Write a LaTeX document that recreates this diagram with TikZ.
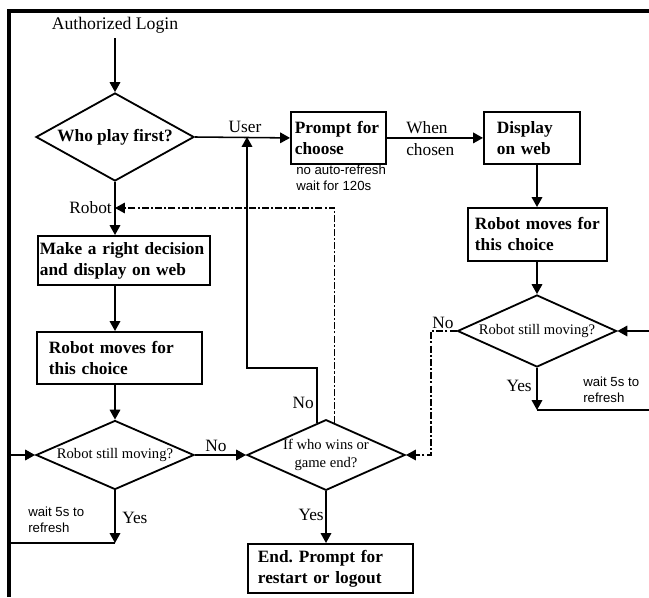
\documentclass[tikz,border=0pt]{standalone}
\usepackage{fontspec}
\setmainfont{Liberation Serif}
\setsansfont{Liberation Sans}
\usetikzlibrary{shapes.geometric, arrows.meta, calc}
\hyphenpenalty=10000
\frenchspacing

\begin{document}
\begin{tikzpicture}[
  x=0.025cm, y=-0.025cm,
  >={Triangle[length=7pt, width=7.5pt]},
  every node/.style={font=\fontsize{12.3}{15}\selectfont},
  stepbox/.style={rectangle, draw, line width=1.3pt, anchor=north west, align=left, inner xsep=0.05cm, inner ysep=0pt, font=\fontsize{12.3}{15}\selectfont\bfseries},
  decision/.style={diamond, aspect=2.5, draw, line width=1.3pt, inner sep=0pt, align=center, font=\fontsize{10.4}{13}\selectfont},
  flow/.style={line width=1.1pt, ->},
  dashflow/.style={line width=0.8pt, dash pattern=on 5pt off 1.5pt on 1.5pt off 1.5pt, ->},
  lbl/.style={inner sep=0pt},
  note/.style={inner sep=0pt, align=left, font=\sffamily\fontsize{9.4}{11}\selectfont}
]
\useasboundingbox (0,0) rectangle (649,597);

% frame
\draw[line width=2.4pt] (9,597) -- (9,11) -- (649,11);

\node (login) at (115,25) {\fontsize{12.6}{15}\selectfont Authorized Login};
\node[decision, minimum width=3.95cm, minimum height=2.2cm, font=\fontsize{12.3}{15}\selectfont\bfseries] (who) at (115,137) {Who play first?};

% user branch
\node[stepbox, inner xsep=0.1cm, text width=2.175cm, minimum height=1.3cm] (prompt) at (290,111) {Prompt for\\choose};
\node[stepbox, inner xsep=0.325cm, text width=1.75cm, minimum height=1.3cm] (display) at (483,111) {Display\\on web};
\node[stepbox, inner xsep=0.175cm, text width=3.125cm, minimum height=1.325cm] (moveR) at (467,207) {Robot moves for\\this choice};
\node[decision, minimum width=3.975cm, minimum height=1.8cm] (stillR) at (537,331) {Robot still moving?};

% robot branch
\node[stepbox, text width=4.2cm, minimum height=1.225cm] (decide) at (37,235) {Make a right decision\\and display on web};
\node[stepbox, inner xsep=0.3cm, text width=3.525cm, minimum height=1.3cm] (moveL) at (36,331) {Robot moves for\\this choice};
\node[decision, minimum width=3.95cm, minimum height=1.725cm] (stillL) at (115,455) {Robot still moving?};

\node[decision, aspect=2.2, minimum width=3.95cm, minimum height=1.725cm] (ifwin) at (326,455) {If who wins or\\game end?};
\node[stepbox, inner xsep=0.25cm, text width=3.625cm, minimum height=1.225cm] (finish) at (247,543) {End. Prompt for\\restart or logout};

\coordinate (robot) at (115,208);
\coordinate (userjoin) at (247,137);
\coordinate (yesL) at (115,543);
\coordinate (yesR) at (537,410);
\coordinate (loopR) at (662,410);

% connectors
\draw[flow] (login) -- (who.north);
\draw[flow] (who.east) -- (prompt.west);
\draw[flow] (prompt.east) -- (display.west);
\draw[flow] (display.south -| stillR.north) -- (stillR.north |- moveR.north);
\draw[flow] (stillR.north |- moveR.south) -- (stillR.north);
\draw[flow] (stillR.south) -- (yesR);
\draw[flow] (yesR) -- (loopR) |- (stillR.east);
\draw[dashflow] (stillR.west) -- (431,331) |- (ifwin.east);

\draw[flow] (who.south) -- (who.south |- decide.north);
\draw[flow] (who.south |- decide.south) -- (who.south |- moveL.north);
\draw[flow] (stillL.north |- moveL.south) -- (stillL.north);
\draw[flow] (stillL.south) -- (yesL);
\draw[flow] (yesL) -- (9,543) |- (stillL.west);
\draw[flow] (stillL.east) -- (ifwin.west);
\draw[flow] (ifwin.south) -- (ifwin.south |- finish.north);
\draw[flow] ($(ifwin.north)!0.11!(ifwin.west)$) |- (247,368) -- (userjoin);
\draw[dashflow] ($(ifwin.north)!0.11!(ifwin.east)$) |- (robot);

% labels
\node[lbl] (userlbl) at (245,127) {User};
\node[lbl, anchor=west] (whenlbl) at (406,128) {When};
\node[lbl, anchor=west] (chosenlbl) at (406,150) {chosen};
\node[note, anchor=west] (waitlong) at (296,178) {no auto-refresh\\wait for 120s};
\node[lbl, anchor=east] (robotlbl) at (112,208) {Robot};
\node[lbl] (noL) at (216,446) {No};
\node[lbl, anchor=west] (yesLlbl) at (122,518) {Yes};
\node[note, anchor=west] (waitL) at (28,520) {wait 5s to\\refresh};
\node[lbl, anchor=east] (noup) at (314,403) {No};
\node[lbl, anchor=east] (yesend) at (324,515) {Yes};
\node[lbl] (noR) at (443,323) {No};
\node[lbl, anchor=east] (yesRlbl) at (532,386) {Yes};
\node[note, anchor=west] (waitR) at (583,390) {wait 5s to\\refresh};

\end{tikzpicture}
\end{document}
